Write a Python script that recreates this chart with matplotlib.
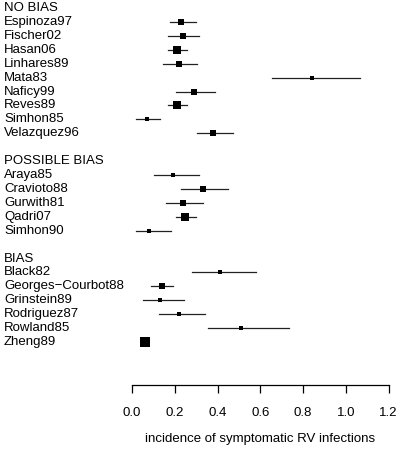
import numpy as np
import matplotlib
matplotlib.use('Agg')
import matplotlib.pyplot as plt

plt.rcParams['font.family'] = ['Liberation Sans', 'DejaVu Sans']

# rows from top to bottom, None = header / blank row
labels = ['NO BIAS', 'Espinoza97', 'Fischer02', 'Hasan06', 'Linhares89', 'Mata83',
          'Naficy99', 'Reves89', 'Simhon85', 'Velazquez96', '',
          'POSSIBLE BIAS', 'Araya85', 'Cravioto88', 'Gurwith81', 'Qadri07', 'Simhon90', '',
          'BIAS', 'Black82', 'Georges\u2212Courbot88', 'Grinstein89', 'Rodriguez87',
          'Rowland85', 'Zheng89']
est = [None, 0.231, 0.240, 0.209, 0.220, 0.841, 0.290, 0.210, 0.070, 0.380, None,
       None, 0.190, 0.330, 0.240, 0.249, 0.079, None,
       None, 0.410, 0.139, 0.129, 0.220, 0.511, 0.061]
lower = [None, 0.178, 0.168, 0.170, 0.143, 0.654, 0.206, 0.168, 0.019, 0.305, None,
         None, 0.101, 0.229, 0.159, 0.207, 0.020, None,
         None, 0.279, 0.090, 0.053, 0.128, 0.357, 0.055]
upper = [None, 0.299, 0.312, 0.257, 0.305, 1.067, 0.388, 0.259, 0.131, 0.471, None,
         None, 0.313, 0.447, 0.332, 0.299, 0.184, None,
         None, 0.578, 0.193, 0.245, 0.343, 0.733, 0.067]
# square size (pixels) ~ study weight
box = [0, 5, 5, 7, 5, 4, 5, 7, 3.5, 6, 0,
       0, 3.5, 5, 5, 8, 3.5, 0,
       0, 3.5, 6, 3.5, 4, 3.5, 9]

W, H = 401, 449
fig = plt.figure(figsize=(W / 100, H / 100), dpi=100)
x0, x1 = 132, 388.7
ytop, ybot = 8, 385
step = 13.92
ax = fig.add_axes([x0 / W, 1 - ybot / H, (x1 - x0) / W, (ybot - ytop) / H])
ax.set_xlim(0, 1.2)
ax.set_ylim((ybot - ytop) / step, 0)

for i, lab in enumerate(labels):
    fig.text(4 / W, 1 - (ytop + i * step) / H, lab, ha='left', va='center', fontsize=9.5)
    if est[i] is None:
        continue
    ax.plot([lower[i], upper[i]], [i, i], color='#222222', lw=0.9, clip_on=False)
    ax.plot(est[i], i, marker='s', color='black', ms=box[i] * 0.8, mew=0,
            linestyle='none', clip_on=False)

for s in ['top', 'right', 'left']:
    ax.spines[s].set_visible(False)
ax.spines['bottom'].set_linewidth(0.9)
ax.set_yticks([])
ax.set_xticks(np.arange(0, 1.21, 0.2))
ax.set_xticklabels(['0.0', '0.2', '0.4', '0.6', '0.8', '1.0', '1.2'])
ax.tick_params(axis='x', length=6, width=0.9, labelsize=9.5, pad=10)
ax.set_xlabel('incidence of symptomatic RV infections', fontsize=9.5, labelpad=10)

fig.savefig('out.png', dpi=100)
